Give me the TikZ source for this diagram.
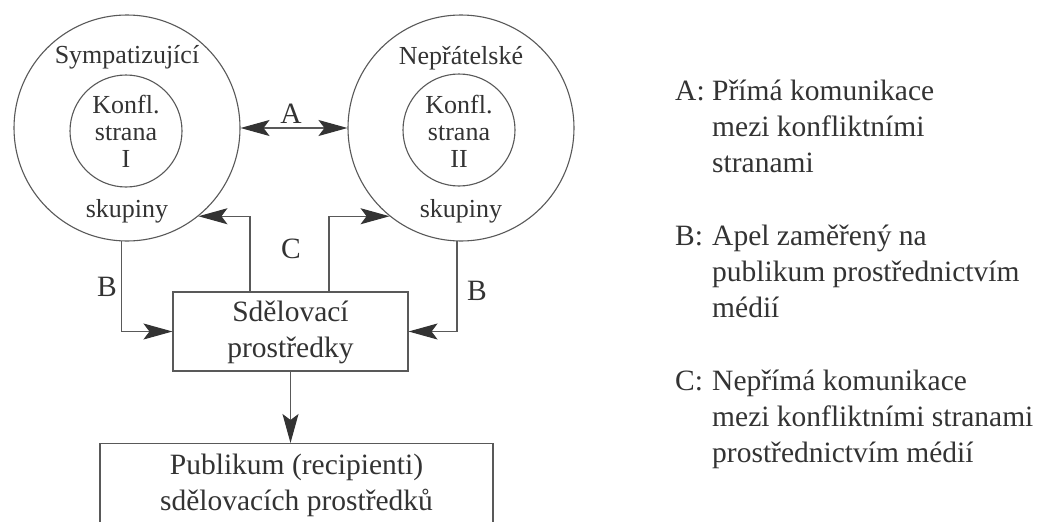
\documentclass[tikz,border=0pt]{standalone}
\usepackage{fontspec}
\setmainfont{Liberation Serif}
\usetikzlibrary{arrows.meta,calc}
\begin{document}
\begin{tikzpicture}[x=1pt,y=-1pt,
  ln/.style={draw=black!65, line width=1.1pt},
  arr/.style={ln, -{Stealth[length=29pt,width=16pt,inset=6pt,fill=black!80,color=black!80]}},
  darr/.style={ln, {Stealth[length=29pt,width=16pt,inset=6pt,fill=black!80,color=black!80]}-{Stealth[length=29pt,width=16pt,inset=6pt,fill=black!80,color=black!80]}},
  circ/.style={circle, ln, inner sep=0pt},
  ctext/.style={font=\fontsize{26}{27.5}\selectfont, text=black!80, align=center, inner sep=0pt, anchor=base},
  btext/.style={font=\fontsize{29.5}{36}\selectfont, text=black!80, align=center, inner sep=0pt},
  lbl/.style={font=\fontsize{29.5}{35}\selectfont, text=black!80, inner sep=0pt, anchor=base},
  legkey/.style={font=\fontsize{29.5}{36}\selectfont, text=black!80, inner sep=0pt, anchor=base west},
  legtext/.style={font=\fontsize{29.5}{36}\selectfont, text=black!80, inner sep=0pt, anchor=base west}
]
\useasboundingbox (0,0) rectangle (1039,522);
\fill[white] (0,0) rectangle (1039,522);

% circles
\node[circ, minimum size=226pt] (LO) at (127,128) {};
\node[circ, minimum size=112pt] (LI) at (126,131) {};
\node[circ, minimum size=226pt] (RO) at (461,128) {};
\node[circ, minimum size=112pt] (RI) at (459,130) {};

\node[ctext] (lt) at (127,63) {Sympatizující};
\node[ctext] (l1) at (126,113) {Konfl.};
\node[ctext] (l2) at (126,140) {strana};
\node[ctext] (l3) at (126,167) {I};
\node[ctext] (lb) at (127,217) {skupiny};

\node[ctext] (rt) at (461,64) {Nepřátelské};
\node[ctext] (r1) at (459,113) {Konfl.};
\node[ctext] (r2) at (459,140) {strana};
\node[ctext] (r3) at (459,167) {II};
\node[ctext] (rb) at (461,217) {skupiny};

% boxes
\node[ln, rectangle, minimum width=235pt, minimum height=79pt, inner sep=0pt] (med) at (290.5,331.5) {};
\node[btext] (medt) at (290.5,332) {Sdělovací\\prostředky};
\node[ln, rectangle, minimum width=393pt, minimum height=120pt, inner sep=0pt, anchor=north] (pub) at (296.5,443) {};
\node[btext] (pubt) at (296.5,485) {Publikum (recipienti)\\sdělovacích prostředků};

% connectors
\draw[darr] (LO.east) -- (RO.west);
\node[lbl] (la) at (291,123) {A};

\draw[arr] (LO.267.5) |- (med.west);
\draw[arr] (RO.268.5) |- (med.east);
\node[lbl] (lbl1) at (107,296) {B};
\node[lbl] (lbl2) at (477,300) {B};

\draw[arr] ([xshift=-40.5pt]med.north) |- (LO.309.6);
\draw[arr] ([xshift=38.5pt]med.north) |- (RO.231.8);
\node[lbl] (lc) at (291,258) {C};

\draw[arr] (med.south) -- (med.south |- pub.north);

% legend
\node[legkey] (ka) at (675,100) {A:};
\node[legtext] (ta) at (712,100) {\begin{tabular}[t]{@{}l@{}}Přímá komunikace\\mezi konfliktními\\stranami\end{tabular}};
\node[legkey] (kb) at (675,245) {B:};
\node[legtext] (tb) at (712,245) {\begin{tabular}[t]{@{}l@{}}Apel zaměřený na\\publikum prostřednictvím\\médií\end{tabular}};
\node[legkey] (kc) at (675,390) {C:};
\node[legtext] (tc) at (712,390) {\begin{tabular}[t]{@{}l@{}}Nepřímá komunikace\\mezi konfliktními stranami\\prostřednictvím médií\end{tabular}};
\end{tikzpicture}
\end{document}
